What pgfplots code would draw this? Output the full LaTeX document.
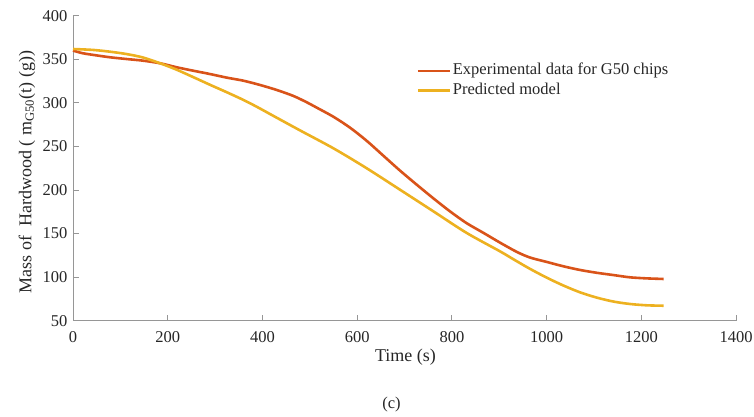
\documentclass[border=0pt]{standalone}
\usepackage{fontspec}
\setmainfont{Liberation Serif}
\usepackage{pgfplots}
\pgfplotsset{compat=1.18}
\definecolor{expc}{RGB}{217,83,25}
\definecolor{predc}{RGB}{237,177,32}
\definecolor{axc}{RGB}{150,150,150}
\definecolor{txc}{RGB}{38,38,38}
\begin{document}
\fontsize{16.5}{19.5}\selectfont
\begin{tikzpicture}
\begin{axis}[
  scale only axis, width=663pt, height=305pt,
  xmin=0, xmax=1400, ymin=50, ymax=400,
  axis x line*=bottom, axis y line*=left,
  xtick={0,200,...,1400}, ytick={50,100,...,400},
  tick align=inside, major tick length=6pt,
  tick style={axc, line width=0.8pt},
  axis line style={axc, line width=0.8pt},
  /pgf/number format/assume math mode=true,
  /pgf/number format/1000 sep={},
  every tick label/.append style={font=\fontsize{16.5}{19.5}\selectfont, text=txc},
  xticklabel style={yshift=-5pt},
  xlabel={Time (s)},
  ylabel={Mass of~ Hardwood ( m\textsubscript{G50}(t) (g))},
  xlabel style={at={(rel axis cs:0.5015,-0.118)}, anchor=center, font=\fontsize{18}{21}\selectfont, text=txc},
  ylabel style={at={(rel axis cs:-0.0694,0.4875)}, anchor=center, font=\fontsize{18}{21}\selectfont, text=txc},
  clip=false,
  legend cell align=left,
  legend image code/.code={\draw[#1] (0pt,0pt) -- (32pt,0pt);},
  legend style={at={(rel axis cs:0.518,0.8515)}, anchor=north west, draw=none, fill=none,
    inner sep=0pt, font=\fontsize{16.5}{19.5}\selectfont, text=txc,
    nodes={text height=12pt, text depth=4.3pt, inner sep=1.65pt}},
]
\addplot[expc, line width=2.6pt, smooth, tension=0.5] coordinates {
(0,360) (20,357) (43,355) (78,352.3) (113,350.3) (148,348.4) (184,345.4)
(219,340.8) (254,336.9) (289,333.1) (325,328.9) (360,325.4) (395,320.5)
(430,314.8) (465,308) (493,300.8) (514,294.7) (550,284) (585,271.5)
(620,256.5) (655,239.5) (690,222.5) (726,206) (761,190.4) (796,175.5)
(831,162) (866,151) (902,139.5) (937,129) (965,122.5) (1000,117.5)
(1035,112.5) (1071,108.2) (1106,105) (1141,102.4) (1176,99.8) (1211,98.6) (1247,97.9)
};
\addlegendentry{Experimental data for G50 chips}
\addplot[predc, line width=2.6pt, smooth, tension=0.5] coordinates {
(0,361.8) (43,360.7) (78,358.7) (113,356) (148,352) (184,345.4)
(219,338) (254,329.5) (289,320.8) (325,312.1) (360,303.3) (388,295.5)
(430,283) (479,268.5) (550,247.8) (620,225) (690,200.5) (761,175.5)
(831,150.8) (902,129.5) (930,120.5) (965,109.5) (1000,99.5) (1035,90.5)
(1071,82.5) (1106,76.5) (1141,72) (1176,69.2) (1211,67.7) (1247,67.2)
};
\addlegendentry{Predicted model}
\node[text=txc, font=\fontsize{16.5}{19.5}\selectfont] at (rel axis cs:0.4804,-0.2764) {(c)};
\coordinate (bl) at (rel axis cs:-0.1101,-0.3125);
\coordinate (tr) at (rel axis cs:1.0271,1.0515);
\end{axis}
\pgfresetboundingbox
\useasboundingbox (bl) rectangle (tr);
\end{tikzpicture}
\end{document}
